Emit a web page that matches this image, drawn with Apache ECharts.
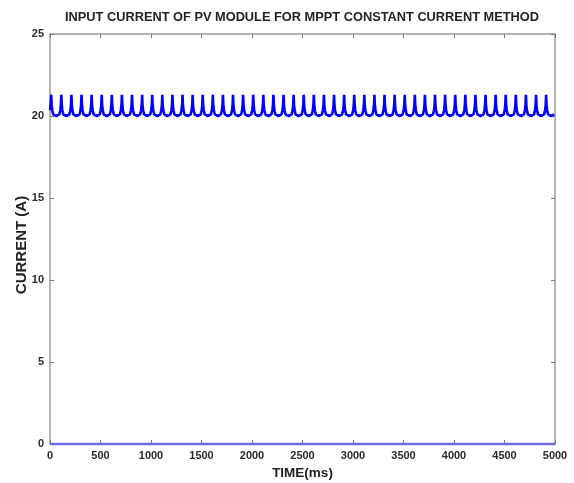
<!DOCTYPE html>
<html>
<head>
<meta charset="utf-8">
<script src="https://cdn.jsdelivr.net/npm/echarts@6/dist/echarts.min.js"></script>
<style>
  html, body { margin: 0; padding: 0; background: #ffffff; }
  #chart { width: 574px; height: 483px; }
</style>
</head>
<body>
<div id="chart"></div>
<script>
// Chart texts
const titleText = 'INPUT CURRENT OF PV MODULE FOR MPPT CONSTANT CURRENT METHOD';
const xAxisName = 'TIME(ms)';
const yAxisName = 'CURRENT (A)';

// Axis ranges and tick steps
const xTicks = [0, 500, 1000, 1500, 2000, 2500, 3000, 3500, 4000, 4500, 5000];
const yTicks = [0, 5, 10, 15, 20, 25];

// Ripple of the PV input current: time (ms) of each current peak
const peakTimes = [
  12, 112, 212, 312, 412, 512, 612, 712, 812, 912,
  1012, 1112, 1212, 1312, 1412, 1512, 1612, 1712, 1812, 1912,
  2012, 2112, 2212, 2312, 2412, 2512, 2612, 2712, 2812, 2912,
  3012, 3112, 3212, 3312, 3412, 3512, 3612, 3712, 3812, 3912,
  4012, 4112, 4212, 4312, 4412, 4512, 4612, 4712, 4812, 4912
];
// One ripple period: offset after a peak (ms) and current (A)
const rippleOffsets  = [0, 4, 10, 20, 35, 50, 65, 80, 90, 96];
const rippleCurrents = [21.3, 20.7, 20.35, 20.1, 20.02, 20.0, 20.02, 20.1, 20.35, 20.7];
// Start of the trace before the first peak
const leadTimes    = [0, 6];
const leadCurrents = [20.35, 20.7];

// Zero-current reference trace
const baseTimes    = [0, 5000];
const baseCurrents = [0, 0];

const xMax = xTicks[xTicks.length - 1];
const rippleData = leadTimes.map((t, i) => [t, leadCurrents[i]]);
peakTimes.forEach(p => {
  rippleOffsets.forEach((o, i) => {
    if (p + o <= xMax) rippleData.push([p + o, rippleCurrents[i]]);
  });
});
const baseData = baseTimes.map((t, i) => [t, baseCurrents[i]]);

const frameColor = '#9c9c9c';
const labelFont = { color: '#2b2b2b', fontWeight: 'bold', fontSize: 11, fontFamily: 'Liberation Sans' };
const nameFont = { color: '#222', fontWeight: 'bold', fontFamily: 'Liberation Sans' };

const chart = echarts.init(document.getElementById('chart'), null, { renderer: 'canvas' });
chart.setOption({
  animation: false,
  backgroundColor: '#ffffff',
  title: {
    text: titleText,
    left: 60,
    top: 6,
    textStyle: Object.assign({ fontSize: 12.8 }, nameFont)
  },
  grid: { left: 50, right: 19, top: 34, bottom: 39, containLabel: false, outerBoundsMode: 'none' },
  xAxis: [
    {
      type: 'value', position: 'bottom',
      min: xTicks[0], max: xMax, interval: xTicks[1] - xTicks[0],
      axisLine: { onZero: false, lineStyle: { color: frameColor, width: 1.5 } },
      axisTick: { inside: true, length: 4, lineStyle: { color: '#777' } },
      axisLabel: Object.assign({ margin: 6, formatter: v => String(v) }, labelFont),
      splitLine: { show: false },
      name: xAxisName, nameLocation: 'middle', nameGap: 22, nameMoveOverlap: false,
      nameTextStyle: Object.assign({ fontSize: 13.5 }, nameFont)
    },
    {
      type: 'value', position: 'top',
      min: xTicks[0], max: xMax, interval: xTicks[1] - xTicks[0],
      axisLine: { onZero: false, lineStyle: { color: frameColor, width: 1.5 } },
      axisTick: { inside: true, length: 4, lineStyle: { color: '#777' } },
      axisLabel: { show: false },
      splitLine: { show: false }
    }
  ],
  yAxis: [
    {
      type: 'value', position: 'left',
      min: yTicks[0], max: yTicks[yTicks.length - 1], interval: yTicks[1] - yTicks[0],
      axisLine: { onZero: false, lineStyle: { color: frameColor, width: 1.5 } },
      axisTick: { inside: true, length: 4, lineStyle: { color: '#777' } },
      axisLabel: Object.assign({ margin: 6 }, labelFont),
      splitLine: { show: false },
      name: yAxisName, nameLocation: 'middle', nameGap: 21, nameRotate: 90, nameMoveOverlap: false,
      nameTextStyle: Object.assign({ fontSize: 15, padding: [0, 12, 0, 0] }, nameFont)
    },
    {
      type: 'value', position: 'right',
      min: yTicks[0], max: yTicks[yTicks.length - 1], interval: yTicks[1] - yTicks[0],
      axisLine: { onZero: false, lineStyle: { color: frameColor, width: 1.5 } },
      axisTick: { inside: true, length: 4, lineStyle: { color: '#777' } },
      axisLabel: { show: false },
      splitLine: { show: false }
    }
  ],
  series: [
    {
      type: 'line', xAxisIndex: 0, yAxisIndex: 0,
      data: baseData, showSymbol: false, clip: false,
      lineStyle: { color: '#6a6ae2', width: 2.5 }
    },
    {
      type: 'line', xAxisIndex: 0, yAxisIndex: 0,
      data: rippleData, showSymbol: false, clip: true,
      lineStyle: { color: '#0000ff', width: 2.6 }
    }
  ]
});
</script>
</body>
</html>
